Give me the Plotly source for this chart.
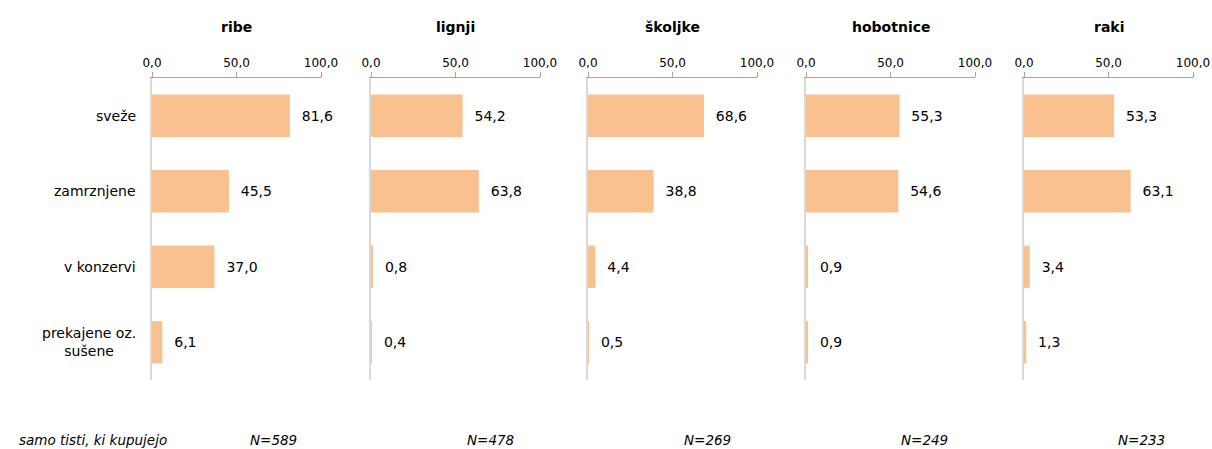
import plotly.graph_objects as go

groups = ["ribe", "lignji", "školjke", "hobotnice", "raki"]
categories = ["sveže", "zamrznjene", "v konzervi", "prekajene oz.<br>sušene"]
values = {
    "ribe": [81.6, 45.5, 37.0, 6.1],
    "lignji": [54.2, 63.8, 0.8, 0.4],
    "školjke": [68.6, 38.8, 4.4, 0.5],
    "hobotnice": [55.3, 54.6, 0.9, 0.9],
    "raki": [53.3, 63.1, 3.4, 1.3],
}
n_labels = ["N=589", "N=478", "N=269", "N=249", "N=233"]
note = "samo tisti, ki kupujejo"
tick_vals = [0, 50, 100]
tick_text = ["0,0", "50,0", "100,0"]

W, H = 1212, 449
FONT = "DejaVu Sans"
BAR = "#F9C18F"
panel_left = [152, 371, 588, 806, 1024]
panel_w = 169
plot_top, plot_bot = 78, 380

fig = go.Figure()
layout = dict(
    width=W, height=H, margin=dict(l=0, r=0, t=0, b=0, autoexpand=False),
    paper_bgcolor="white", plot_bgcolor="white",
    separators=", ", showlegend=False,
    font=dict(family=FONT, size=12, color="#000000"),
    annotations=[],
)
ydom = [(H - plot_bot) / H, (H - plot_top) / H]
for i, g in enumerate(groups):
    xa = "x" if i == 0 else f"x{i+1}"
    ya = "y" if i == 0 else f"y{i+1}"
    fig.add_trace(go.Bar(
        x=values[g], y=categories, orientation="h",
        marker=dict(color=BAR, line=dict(width=0)),
        width=0.56,
        texttemplate="\u00a0\u00a0%{x:.1f}", textposition="outside",
        constraintext="none", cliponaxis=False,
        textfont=dict(family=FONT, size=14, color="#000000"),
        xaxis=xa, yaxis=ya, hoverinfo="skip",
    ))
    x0 = panel_left[i] / W
    x1 = (panel_left[i] + panel_w) / W
    layout["xaxis" if i == 0 else f"xaxis{i+1}"] = dict(
        domain=[x0, x1], range=[0, 100], side="top", anchor=ya,
        showline=True, linecolor="#A6A6A6", linewidth=1,
        ticks="outside", ticklen=5, tickcolor="#A6A6A6",
        tickvals=tick_vals, ticktext=tick_text, showgrid=False, zeroline=False,
        tickfont=dict(family=FONT, size=12, color="#000000"),
        fixedrange=True, automargin=False,
    )
    layout["yaxis" if i == 0 else f"yaxis{i+1}"] = dict(
        domain=ydom, anchor=xa, categoryorder="array",
        categoryarray=categories, autorange="reversed",
        showline=True, linecolor="#D9D9D9", linewidth=1.5,
        showticklabels=False, ticks="", showgrid=False, zeroline=False,
        fixedrange=True, automargin=False,
    )
    layout["annotations"].append(dict(
        text=f"<b>{g}</b>", x=(panel_left[i] + panel_w / 2) / W, y=(H - 27) / H,
        xref="paper", yref="paper", xanchor="center", yanchor="middle",
        showarrow=False, font=dict(family=FONT, size=14, color="#000000"),
    ))
    layout["annotations"].append(dict(
        text=f"<i>{n_labels[i]}</i>", x=(273 + 217 * i) / W, y=(H - 440) / H,
        xref="paper", yref="paper", xanchor="center", yanchor="middle",
        showarrow=False, font=dict(family=FONT, size=13.5, color="#000000"),
    ))

for c in categories:
    layout["annotations"].append(dict(
        text=c, x=138 / W, y=c, xref="paper", yref="y",
        xanchor="right", yanchor="middle", align="center",
        showarrow=False, font=dict(family=FONT, size=14, color="#000000"),
    ))
layout["annotations"].append(dict(
    text=f"<i>{note}</i>", x=17 / W, y=(H - 440) / H,
    xref="paper", yref="paper", xanchor="left", yanchor="middle",
    showarrow=False, font=dict(family=FONT, size=13.5, color="#000000"),
))

fig.update_layout(**layout)
fig.write_html("out.html")
